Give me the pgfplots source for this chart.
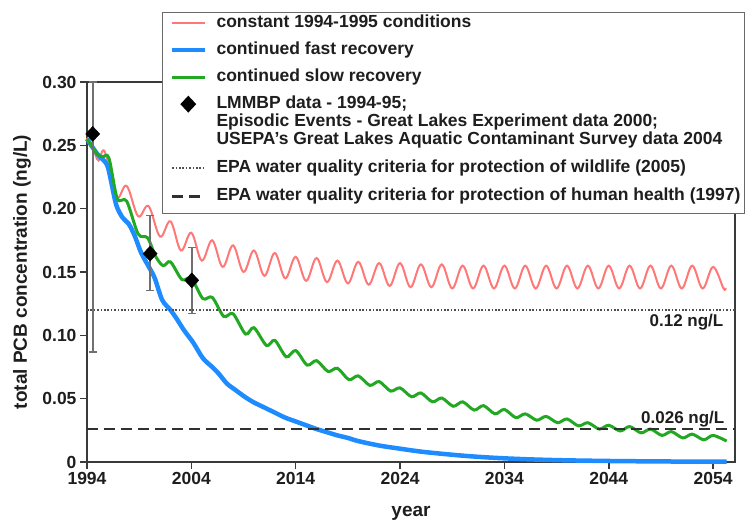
\documentclass[border=0pt]{standalone}
\usepackage{fontspec}
\setmainfont{Liberation Sans}
\usepackage{pgfplots}
\pgfplotsset{compat=1.18}
\definecolor{redline}{HTML}{FF7878}
\definecolor{blueline}{HTML}{1E8CFF}
\definecolor{greenline}{HTML}{22A822}
\definecolor{axisgray}{HTML}{3A3A3A}
\definecolor{labelgray}{HTML}{1E1E1E}
\definecolor{errgray}{HTML}{707070}
\definecolor{dotgray}{HTML}{505050}
\definecolor{dashgray}{HTML}{303030}
\definecolor{legendgray}{HTML}{6A6A6A}
\pgfplotsset{
  linelegend/.style={legend image code/.code={\path[draw=none,fill=none] (0pt,0pt) -- (39pt,0pt); \draw[##1] (6pt,4.5pt) -- (39pt,4.5pt);}},
  marklegend/.style={legend image code/.code={\path[draw=none,fill=none] (0pt,0pt) -- (39pt,0pt); \draw[##1] plot coordinates {(22pt,4.5pt)};}},
}
\begin{document}
\begin{tikzpicture}
\path (-87pt,-65pt) rectangle (660pt,462pt);
\begin{axis}[
  at={(0pt,0pt)}, anchor=south west,
  scale only axis, width=648pt, height=380pt,
  xmin=1994, xmax=2056.1, ymin=0, ymax=0.30,
  xtick={1994,2004,2014,2024,2034,2044,2054},
  xticklabels={1994,2004,2014,2024,2034,2044,2054},
  ytick={0,0.05,0.10,0.15,0.20,0.25,0.30},
  yticklabels={0,0.05,0.10,0.15,0.20,0.25,0.30},
  tick align=outside, tick pos=left,
  major tick length=7pt,
  axis line style={draw=axisgray, line width=1.6pt},
  every tick/.style={draw=axisgray, line width=1.6pt},
  tick label style={font=\bfseries\fontsize{17.5}{20}\selectfont, text=labelgray},
  xlabel={year}, ylabel={total PCB concentration (ng/L)},
  label style={font=\bfseries\fontsize{19}{22}\selectfont, text=labelgray},
  xlabel style={at={(axis description cs:0.5,-0.134)}, anchor=center},
  ylabel style={at={(axis description cs:-0.1003,0.5)}, anchor=center},
  clip=false,
  legend style={at={(1.01543,1.18421)}, anchor=north east,
    draw=legendgray, line width=1.3pt, fill=white,
    inner xsep=4pt, inner ysep=5pt, row sep=0pt, column sep=9pt,
    font=\bfseries\fontsize{17.5}{18}\selectfont, text=labelgray,
    cells={anchor=base west}, nodes={inner sep=0pt}},
]
\addplot[redline, line width=2pt, smooth, tension=0.6, linelegend] coordinates {
(1994,0.256) (1994.6,0.247) (1995.1,0.238) (1995.7,0.245) (1996.8,0.209) (1997.8,0.218)
(1998.9,0.194) (1999.9,0.202) (2001,0.178) (2002,0.190) (2003,0.167) (2004,0.181)
(2005,0.159) (2006,0.175) (2007,0.154) (2008,0.171) (2009,0.150) (2010,0.167)
(2011,0.147) (2012,0.165) (2013,0.145) (2014,0.162) (2015,0.143) (2016,0.161)
(2017,0.142) (2018,0.159) (2019,0.141) (2020,0.158) (2021,0.140) (2022,0.157)
(2023,0.139) (2024,0.157) (2025,0.138) (2026,0.156) (2027,0.138) (2028,0.156)
(2029,0.137) (2030,0.155) (2031,0.137) (2032,0.155) (2033,0.137) (2034,0.155)
(2035,0.137) (2036,0.155) (2037,0.137) (2038,0.155) (2039,0.137) (2040,0.155)
(2041,0.137) (2042,0.155) (2043,0.137) (2044,0.155) (2045,0.137) (2046,0.155)
(2047,0.137) (2048,0.155) (2049,0.137) (2050,0.155) (2051,0.137) (2052,0.155)
(2053,0.137) (2054,0.154) (2055,0.137) (2055.2,0.1375)
};
\addlegendentry[text height=10pt, text depth=14pt]{constant 1994-1995 conditions}
\addplot[blueline, line width=4.5pt, smooth, tension=0.5, linelegend] coordinates {
(1994,0.255) (1995,0.243) (1995.9,0.235) (1996.3,0.222) (1996.8,0.203) (1997.4,0.193)
(1998,0.188) (1998.6,0.178) (1999.2,0.165) (2000,0.153) (2000.5,0.145) (2001.2,0.128)
(2002,0.120) (2002.6,0.113) (2003.3,0.104) (2004.2,0.094) (2005.1,0.082) (2006,0.075)
(2006.6,0.070) (2007.4,0.062) (2008.2,0.057) (2009.2,0.051) (2010,0.047) (2011,0.043)
(2012,0.039) (2013,0.035) (2014,0.032) (2015,0.029) (2016,0.026) (2017,0.0235)
(2018,0.021) (2019,0.019) (2020,0.0165) (2022,0.013) (2024,0.0105) (2026,0.0082)
(2028,0.0065) (2030,0.005) (2032,0.0038) (2034,0.0029) (2036,0.0022) (2038,0.0017)
(2040,0.0013) (2044,0.0008) (2048,0.0005) (2052,0.0003) (2055.3,0.0002)
};
\addlegendentry[text height=13pt, text depth=14pt]{continued fast recovery}
\addplot[greenline, line width=3pt, smooth, tension=0.5, linelegend] coordinates {
(1994,0.255) (1995,0.243) (1995.5,0.241) (1996.1,0.240) (1996.9,0.208) (1997.8,0.206)
(1998.9,0.180) (1999.8,0.177) (2000.6,0.162) (2001.3,0.155) (2002.0,0.158) (2003.1,0.144)
(2004.0,0.145) (2005.1,0.129) (2006.0,0.130) (2007.1,0.115) (2008.0,0.117) (2009.2,0.101)
(2010.0,0.106) (2011.2,0.092) (2012.0,0.096) (2013.1,0.083) (2014.0,0.088) (2015.1,0.0765)
(2016.0,0.080) (2017.1,0.0715) (2018,0.074) (2019.1,0.065) (2020,0.068) (2021.1,0.0605)
(2022,0.0635) (2023.1,0.056) (2024,0.0585) (2025.1,0.0515) (2026,0.0545) (2027.1,0.0475)
(2028,0.0505) (2029.1,0.044) (2030,0.0475) (2031.1,0.041) (2032,0.0445) (2033.1,0.038)
(2034,0.0415) (2035.1,0.035) (2036,0.038) (2037.1,0.033) (2038,0.036) (2039.1,0.031)
(2040,0.034) (2041.1,0.0285) (2042,0.031) (2043.1,0.026) (2044,0.029) (2045.1,0.0245)
(2046,0.028) (2047.1,0.023) (2048,0.026) (2049.1,0.021) (2050,0.024) (2051.1,0.019)
(2052,0.022) (2053.1,0.0175) (2054,0.021) (2055.3,0.0165)
};
\addlegendentry[text height=13pt, text depth=14pt]{continued slow recovery}
\addplot[only marks, mark=diamond*, mark size=7.5pt, mark options={xscale=1.25, fill=black, draw=black},
  marklegend,
  error bars/.cd, y dir=both, y explicit,
  error bar style={draw=errgray, line width=1.8pt},
  error mark options={rotate=90, mark size=4pt, draw=errgray, line width=1.5pt}]
coordinates {
(1994.55,0.259) += (0,0.041) -= (0,0.172)
(2000.05,0.1645) += (0,0.030) -= (0,0.029)
(2004.04,0.1434) += (0,0.026) -= (0,0.026)
};
\addlegendentry[text height=13pt, text depth=5pt]{LMMBP data - 1994-95;}
\addlegendimage{empty legend}
\addlegendentry[text height=13pt, text depth=5pt]{Episodic Events - Great Lakes Experiment data 2000;}
\addlegendimage{empty legend}
\addlegendentry[text height=13pt, text depth=15pt]{USEPA's Great Lakes Aquatic Contaminant Survey data 2004}
\addplot[dotgray, line width=1.6pt, dash pattern=on 1.6pt off 1.8pt, linelegend] coordinates {(1994,0.12) (2056.1,0.12)};
\addlegendentry[text height=13pt, text depth=15pt]{EPA water quality criteria for protection of wildlife (2005)}
\addplot[dashgray, line width=2.8pt, dash pattern=on 11pt off 6pt, linelegend] coordinates {(1994,0.026) (2056.1,0.026)};
\addlegendentry[text height=13pt, text depth=8pt]{EPA water quality criteria for protection of human health (1997)}
\node[anchor=north east, inner sep=0pt, yshift=-4pt, font=\bfseries\fontsize{17}{20}\selectfont, text=labelgray] at (axis cs:2055,0.12) {0.12 ng/L};
\node[anchor=base east, inner sep=0pt, yshift=6pt, font=\bfseries\fontsize{17}{20}\selectfont, text=labelgray] at (axis cs:2055.1,0.026) {0.026 ng/L};
\end{axis}
\end{tikzpicture}
\end{document}
